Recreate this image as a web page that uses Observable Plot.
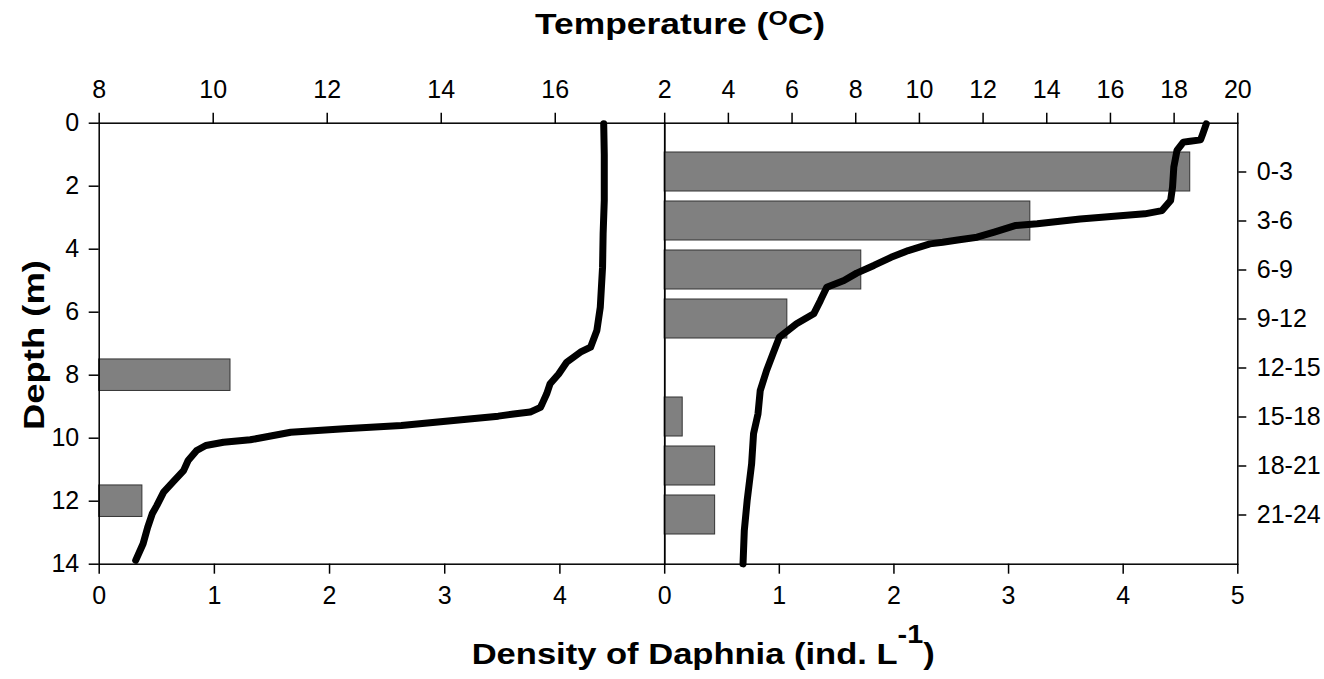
<!DOCTYPE html>
<html><head><meta charset="utf-8">
<script src="https://cdn.jsdelivr.net/npm/d3@7"></script>
<script src="https://cdn.jsdelivr.net/npm/@observablehq/plot@0.6"></script>
<style>
body{margin:0;background:#fff;}
#wrap{position:relative;width:1324px;height:679px;font-family:"Liberation Sans",Arial,sans-serif;}
#wrap svg{position:absolute;left:0;top:0;}
</style></head><body><div id="wrap"></div>
<script>
// ---- data ----
// left panel: temperature profile (depth m, temperature °C)
const leftDepth = [0.02,1.0,2.45,3.5,4.57,5.84,6.58,7.11,7.27,7.59,7.96,8.27,8.59,8.91,9.02,9.17,9.23,9.3,9.39,9.6,9.7,9.81,10.05,10.13,10.23,10.39,10.71,11.03,11.34,11.71,12.14,12.4,12.83,13.35,13.88];
const leftTemp  = [16.85,16.86,16.86,16.84,16.83,16.79,16.73,16.62,16.44,16.2,16.06,15.91,15.85,15.77,15.74,15.56,15.27,15.0,14.49,13.3,12.3,11.36,10.65,10.18,9.87,9.71,9.56,9.48,9.32,9.13,9.01,8.93,8.85,8.77,8.64];
// left panel: Daphnia density bars (depth interval from–to, density)
const leftBarFrom = [7.5, 11.5];
const leftBarTo = [8.5, 12.5];
const leftBarDensity = [1.14, 0.375];
// right panel: temperature profile (depth m, temperature °C)
const rightDepth = [0.04,0.65,1.02,1.10,1.16,1.67,2.69,3.92,4.73,5.35,5.55,5.76,5.86,6.16,6.26,6.67,6.98,7.15,7.29,7.39,7.8,8.21,8.71,9.18,9.63,10.04,10.86,11.67,12.28,13.1,14.12,15.14,16.37,17.8,19.02,20.86,23.1,24.94,26.98];
const rightTemp  = [19.01,18.90,18.83,18.5,18.29,18.09,17.99,17.95,17.89,17.62,17.08,15.73,15.05,13.70,13.03,12.35,11.81,11.2,10.73,10.33,9.65,9.11,8.57,8.03,7.63,7.09,6.89,6.68,6.14,5.60,5.40,5.20,5.0,4.93,4.79,4.73,4.59,4.50,4.46];
// right panel: Daphnia density by depth class
const rightCategories = ["0-3","3-6","6-9","9-12","12-15","15-18","18-21","21-24"];
const rightDensity = [4.585, 3.19, 1.715, 1.07, 0, 0.157, 0.44, 0.44];
// tick values
const depthTicks = [0,2,4,6,8,10,12,14];
const leftTempTicks = [8,10,12,14,16];
const rightTempTicks = [2,4,6,8,10,12,14,16,18,20];
const leftDensityTicks = [0,1,2,3,4];
const rightDensityTicks = [0,1,2,3,4,5];

// ---- build tables ----
const leftCurve = leftDepth.map((d,i)=>({depth:d,temp:leftTemp[i]}));
const rightCurve = rightDepth.map((d,i)=>({depth:d,temp:rightTemp[i]}));
const leftBars = leftBarDensity.map((v,i)=>({from:leftBarFrom[i],to:leftBarTo[i],density:v}));
const rightBars = rightCategories.map((c,i)=>({cat:c,density:rightDensity[i]})).filter(d=>d.density>0);

const W=1324, H=679;
const frame = {marginTop:122.7, marginBottom:115.3, width:W, height:H};
const leftM = {marginLeft:98.7, marginRight:659.8};
const rightM = {marginLeft:664.2, marginRight:86.7};
const FS = 25;
const style = {background:"transparent", fontFamily:"'Liberation Sans', Arial, sans-serif", fontSize:FS+"px", color:"black", overflow:"visible"};
const barStyle = {fill:"#808080", stroke:"#333", strokeWidth:1};
const lineStyle = {stroke:"black", strokeWidth:7, strokeLinejoin:"round", strokeLinecap:"round"};
const fmt = d => String(d);
const wrap = document.getElementById("wrap");

// left density (bars, bottom axis, depth axis)
wrap.append(Plot.plot({...frame, ...leftM, style,
  x:{domain:[0,4.91], label:null}, y:{domain:[0,14], reverse:true, label:null},
  marks:[
    Plot.rect(leftBars,{x1:0,x2:"density",y1:"from",y2:"to",...barStyle}),
    Plot.frame({stroke:"black",strokeWidth:1.5}),
    Plot.axisX({anchor:"bottom",ticks:leftDensityTicks,tickFormat:fmt,tickSize:10,tickPadding:12,label:null,fontSize:FS,strokeWidth:1.5}),
    Plot.axisY({anchor:"left",ticks:depthTicks,tickFormat:fmt,tickSize:10,tickPadding:10,label:null,fontSize:FS,strokeWidth:1.5})
  ]}));

// right density (bars, bottom axis, class axis)
wrap.append(Plot.plot({...frame, ...rightM, style,
  x:{domain:[0,5], label:null}, y:{type:"band", domain:rightCategories, paddingInner:0.2, paddingOuter:0.6, label:null},
  marks:[
    Plot.barX(rightBars,{x:"density",y:"cat",...barStyle}),
    Plot.frame({stroke:"black",strokeWidth:1.5}),
    Plot.axisX({anchor:"bottom",ticks:rightDensityTicks,tickFormat:fmt,tickSize:10,tickPadding:12,label:null,fontSize:FS,strokeWidth:1.5}),
    Plot.axisY({anchor:"right",tickSize:8,tickPadding:11,label:null,fontSize:FS,strokeWidth:1.5})
  ]}));

// left temperature
wrap.append(Plot.plot({...frame, ...leftM, style,
  x:{domain:[8,17.92], label:null}, y:{domain:[0,14], reverse:true, axis:null},
  marks:[
    Plot.line(leftCurve,{x:"temp",y:"depth",...lineStyle}),
    Plot.axisX({anchor:"top",ticks:leftTempTicks,tickFormat:fmt,tickSize:11,tickPadding:14,label:null,fontSize:FS,strokeWidth:1.5})
  ]}));

// right temperature
wrap.append(Plot.plot({...frame, ...rightM, style,
  x:{domain:[2,20], label:null}, y:{domain:[0,27], reverse:true, axis:null},
  marks:[
    Plot.line(rightCurve,{x:"temp",y:"depth",...lineStyle}),
    Plot.axisX({anchor:"top",ticks:rightTempTicks,tickFormat:fmt,tickSize:11,tickPadding:14,label:null,fontSize:FS,strokeWidth:1.5})
  ]}));

// titles
const svg = d3.select(wrap).append("svg").attr("width",W).attr("height",H)
  .style("font-family","'Liberation Sans', Arial, sans-serif").style("font-weight","bold");
const t1 = svg.append("text").attr("x",535).attr("y",34).attr("font-size",30)
  .attr("textLength",290).attr("lengthAdjust","spacingAndGlyphs");
t1.append("tspan").text("Temperature (");
t1.append("tspan").attr("font-size",21).attr("dy",-9).text("O");
t1.append("tspan").attr("dy",9).text("C)");
const t2 = svg.append("text").attr("x",471.7).attr("y",664).attr("font-size",30)
  .attr("textLength",463).attr("lengthAdjust","spacingAndGlyphs");
t2.append("tspan").text("Density of Daphnia (ind. L");
t2.append("tspan").attr("font-size",25).attr("dy",-21).text("-1");
t2.append("tspan").attr("dy",21).text(")");
svg.append("text").attr("transform","translate(44,345) rotate(-90)").attr("text-anchor","middle")
  .attr("font-size",30).attr("textLength",170).attr("lengthAdjust","spacingAndGlyphs").text("Depth (m)");
</script></body></html>
